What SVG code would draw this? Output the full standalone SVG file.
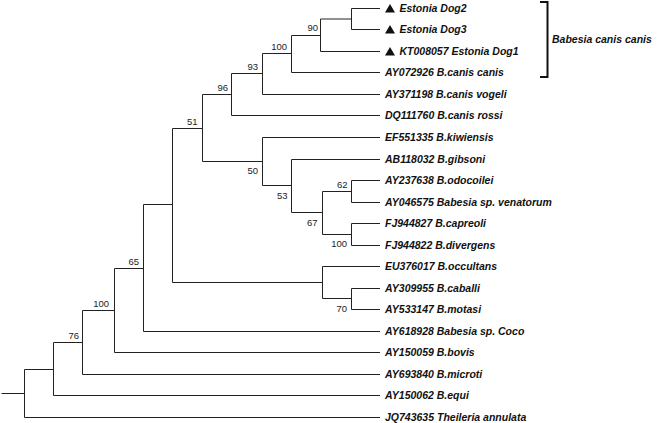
<svg xmlns="http://www.w3.org/2000/svg" width="661" height="423" viewBox="0 0 661 423">
<style>
  .br{fill:none;stroke:#222;stroke-width:1}
  .leaf{font-family:"Liberation Sans",Arial,sans-serif;font-size:10.5px;font-weight:bold;font-style:italic;fill:#111}
  .bs{font-family:"Liberation Sans",Arial,sans-serif;font-size:9.5px;fill:#222;text-anchor:end}
  .tri{fill:#111}
</style>
<rect width="661" height="423" fill="#fff"/>
<g id="connectors">
  <path class="br" d="M380 8.5 H351.5 V29.5 H380"/>
  <path class="br" d="M351.5 19 H320.5 V51.5 H380"/>
  <path class="br" d="M320.5 35.5 H291.5 V72.5 H380"/>
  <path class="br" d="M291.5 53.5 H262.5 V94.5 H380"/>
  <path class="br" d="M262.5 73.5 H231.5 V115.5 H380"/>
  <path class="br" d="M231.5 94.5 H202.5 V161.5 H262.5"/>
  <path class="br" d="M380 137.5 H262.5 V185.5 H291.5"/>
  <path class="br" d="M380 159.5 H291.5 V212.5 H322.5"/>
  <path class="br" d="M351.5 191.5 H322.5 V234.5 H351.5"/>
  <path class="br" d="M380 180.5 H351.5 V202.5 H380"/>
  <path class="br" d="M380 223.5 H351.5 V245.5 H380"/>
  <path class="br" d="M380 288.5 H351.5 V309.5 H380"/>
  <path class="br" d="M380 266.5 H322.5 V298.5 H351.5"/>
  <path class="br" d="M202.5 128.5 H172.5 V282.5 H322.5"/>
  <path class="br" d="M172.5 204.5 H143.5 V331.5 H380"/>
  <path class="br" d="M143.5 268.5 H114.5 V352.5 H380"/>
  <path class="br" d="M114.5 310.5 H82.5 V374.5 H380"/>
  <path class="br" d="M82.5 342.5 H53.5 V395.5 H380"/>
  <path class="br" d="M53.5 369.5 H24.5 V417.5 H380"/>
  <path class="br" d="M1.5 393.5 H24.5"/>
</g>
<g id="support">
  <text class="bs" x="318" y="31">90</text>
  <text class="bs" x="287" y="50">100</text>
  <text class="bs" x="258" y="69.5">93</text>
  <text class="bs" x="228" y="91">96</text>
  <text class="bs" x="197.5" y="124.5">51</text>
  <text class="bs" x="258" y="174">50</text>
  <text class="bs" x="287.5" y="198.5">53</text>
  <text class="bs" x="347.5" y="187.5">62</text>
  <text class="bs" x="317.5" y="225.5">67</text>
  <text class="bs" x="347" y="246.5">100</text>
  <text class="bs" x="347" y="311.5">70</text>
  <text class="bs" x="139" y="264.5">65</text>
  <text class="bs" x="109" y="306.5">100</text>
  <text class="bs" x="79" y="338.5">76</text>
</g>
<g id="leaf-dog2"><polygon class="tri" points="385,12.5 395,12.5 390,4"/><text class="leaf" x="399.5" y="12">Estonia Dog2</text></g>
<g id="leaf-dog3"><polygon class="tri" points="385,33.5 395,33.5 390,25"/><text class="leaf" x="399.5" y="33">Estonia Dog3</text></g>
<g id="leaf-dog1"><polygon class="tri" points="385,55.5 395,55.5 390,47"/><text class="leaf" x="399.5" y="55">KT008057 Estonia Dog1</text></g>
<g id="leaf-AY072926"><text class="leaf" x="385" y="76">AY072926 B.canis canis</text></g>
<g id="leaf-AY371198"><text class="leaf" x="385" y="98">AY371198 B.canis vogeli</text></g>
<g id="leaf-DQ111760"><text class="leaf" x="385" y="119">DQ111760 B.canis rossi</text></g>
<g id="leaf-EF551335"><text class="leaf" x="385" y="141">EF551335 B.kiwiensis</text></g>
<g id="leaf-AB118032"><text class="leaf" x="385" y="163">AB118032 B.gibsoni</text></g>
<g id="leaf-AY237638"><text class="leaf" x="385" y="184">AY237638 B.odocoilei</text></g>
<g id="leaf-AY046575"><text class="leaf" x="385" y="206">AY046575 Babesia sp. venatorum</text></g>
<g id="leaf-FJ944827"><text class="leaf" x="385" y="227">FJ944827 B.capreoli</text></g>
<g id="leaf-FJ944822"><text class="leaf" x="385" y="249">FJ944822 B.divergens</text></g>
<g id="leaf-EU376017"><text class="leaf" x="385" y="270">EU376017 B.occultans</text></g>
<g id="leaf-AY309955"><text class="leaf" x="385" y="292">AY309955 B.caballi</text></g>
<g id="leaf-AY533147"><text class="leaf" x="385" y="313">AY533147 B.motasi</text></g>
<g id="leaf-AY618928"><text class="leaf" x="385" y="335">AY618928 Babesia sp. Coco</text></g>
<g id="leaf-AY150059"><text class="leaf" x="385" y="356">AY150059 B.bovis</text></g>
<g id="leaf-AY693840"><text class="leaf" x="385" y="378">AY693840 B.microti</text></g>
<g id="leaf-AY150062"><text class="leaf" x="385" y="399">AY150062 B.equi</text></g>
<g id="leaf-JQ743635"><text class="leaf" x="385" y="421">JQ743635 Theileria annulata</text></g>
<g id="clade-bracket">
  <path d="M540 2 H547.5 V77 H540" fill="none" stroke="#111" stroke-width="2"/>
  <text class="leaf" x="552" y="42.5">Babesia canis canis</text>
</g>
</svg>
